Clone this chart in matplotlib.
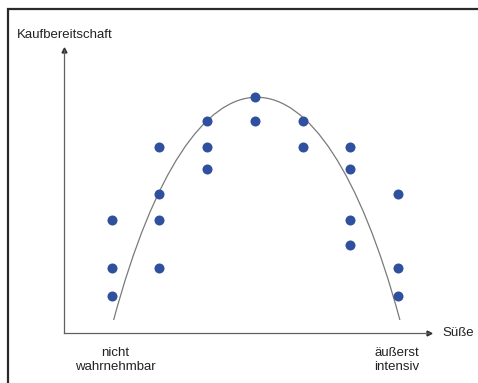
import matplotlib
matplotlib.use("Agg")
import matplotlib.pyplot as plt
from matplotlib.path import Path
from matplotlib.patches import PathPatch, Rectangle

plt.rcParams['font.family'] = ['Liberation Sans', 'DejaVu Sans']

# Süße-Stufen (1 = nicht wahrnehmbar ... 7 = äußerst intensiv) und Kaufbereitschaft
x_vals = [1, 1, 1,
          2, 2, 2, 2,
          3, 3, 3,
          4, 4,
          5, 5,
          6, 6, 6, 6,
          7, 7, 7]
y_vals = [11.3, 6.5, 3.7,
          18.6, 13.9, 11.3, 6.5,
          21.2, 18.6, 16.4,
          23.6, 21.2,
          21.2, 18.6,
          18.6, 16.4, 11.3, 8.8,
          13.9, 6.5, 3.7]

# idealisierte Kurve (kubische Bezier-Stützpunkte)
curve_x = [1.04, 2.72, 5.36, 7.04]
curve_y = [1.3, 31.0, 31.0, 1.3]

x_label = "Süße"
y_label = "Kaufbereitschaft"
low_label = "nicht\nwahrnehmbar"
high_label = "äußerst\nintensiv"

fig = plt.figure(figsize=(4.78, 3.83), dpi=100)
ax = fig.add_axes([64 / 478, 1 - 333 / 383, (429 - 64) / 478, (333 - 50) / 383])

ax.set_xlim(0, 7.65)
ax.set_ylim(0, 28.3)
for s in ['top', 'right']:
    ax.spines[s].set_visible(False)
for s in ['left', 'bottom']:
    ax.spines[s].set_color('#606060')
    ax.spines[s].set_linewidth(0.9)
ax.set_xticks([])
ax.set_yticks([])
ax.patch.set_alpha(0)

# Pfeilspitzen
ax.plot(1, 0, marker='>', color='#303030', markersize=3.5,
        transform=ax.transAxes, clip_on=False)
ax.plot(0, 1, marker='^', color='#303030', markersize=3.5,
        transform=ax.transAxes, clip_on=False)

verts = list(zip(curve_x, curve_y))
codes = [Path.MOVETO, Path.CURVE4, Path.CURVE4, Path.CURVE4]
ax.add_patch(PathPatch(Path(verts, codes), facecolor='none',
                       edgecolor='#7a7a7a', linewidth=0.9))

ax.scatter(x_vals, y_vals, s=52, color='#2f4f9f', zorder=3, linewidths=0)

fig.text(17 / 478, 1 - 35 / 383, y_label, fontsize=9.5, color='#222222',
         ha='left', va='center')
fig.text(442 / 478, 1 - 333 / 383, x_label, fontsize=9.5, color='#222222',
         ha='left', va='center')
fig.text(115 / 478, 1 - 360 / 383, low_label, fontsize=9.5, color='#222222',
         ha='center', va='center', linespacing=1.3)
fig.text(397 / 478, 1 - 360 / 383, high_label, fontsize=9.5, color='#222222',
         ha='center', va='center', linespacing=1.3)

# Rahmen
fig.add_artist(Rectangle((8 / 478, -0.1), 1.2, 1 - 9 / 383 + 0.1,
                         transform=fig.transFigure, fill=False,
                         edgecolor='#2a2a2a', linewidth=1.6))

fig.savefig("out.png", dpi=100)
